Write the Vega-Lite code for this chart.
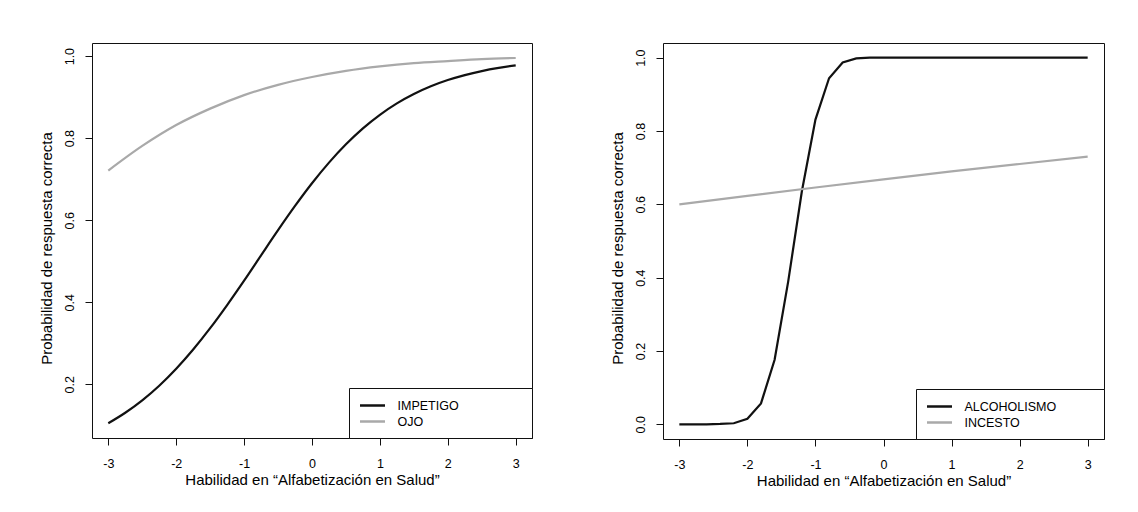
{
  "$schema": "https://vega.github.io/schema/vega-lite/v6.json",
  "background": "white",
  "padding": {"left": 38, "top": 42, "right": 5, "bottom": 5},
  "datasets": {
    "left": [
      {"x": -3.0, "p": 0.105, "item": "IMPETIGO"},
      {"x": -2.75, "p": 0.1306, "item": "IMPETIGO"},
      {"x": -2.5, "p": 0.1608, "item": "IMPETIGO"},
      {"x": -2.25, "p": 0.1964, "item": "IMPETIGO"},
      {"x": -2.0, "p": 0.2378, "item": "IMPETIGO"},
      {"x": -1.75, "p": 0.2847, "item": "IMPETIGO"},
      {"x": -1.5, "p": 0.3367, "item": "IMPETIGO"},
      {"x": -1.25, "p": 0.3932, "item": "IMPETIGO"},
      {"x": -1.0, "p": 0.4527, "item": "IMPETIGO"},
      {"x": -0.75, "p": 0.5144, "item": "IMPETIGO"},
      {"x": -0.5, "p": 0.5757, "item": "IMPETIGO"},
      {"x": -0.25, "p": 0.6347, "item": "IMPETIGO"},
      {"x": 0.0, "p": 0.6900, "item": "IMPETIGO"},
      {"x": 0.25, "p": 0.7403, "item": "IMPETIGO"},
      {"x": 0.5, "p": 0.7850, "item": "IMPETIGO"},
      {"x": 0.75, "p": 0.8239, "item": "IMPETIGO"},
      {"x": 1.0, "p": 0.8569, "item": "IMPETIGO"},
      {"x": 1.25, "p": 0.8847, "item": "IMPETIGO"},
      {"x": 1.5, "p": 0.9076, "item": "IMPETIGO"},
      {"x": 1.75, "p": 0.9264, "item": "IMPETIGO"},
      {"x": 2.0, "p": 0.9416, "item": "IMPETIGO"},
      {"x": 2.25, "p": 0.9538, "item": "IMPETIGO"},
      {"x": 2.5, "p": 0.9636, "item": "IMPETIGO"},
      {"x": 2.75, "p": 0.9713, "item": "IMPETIGO"},
      {"x": 3.0, "p": 0.9775, "item": "IMPETIGO"},
      {"x": -3.0, "p": 0.721, "item": "OJO"},
      {"x": -2.5, "p": 0.781, "item": "OJO"},
      {"x": -2.0, "p": 0.832, "item": "OJO"},
      {"x": -1.5, "p": 0.872, "item": "OJO"},
      {"x": -1.0, "p": 0.905, "item": "OJO"},
      {"x": -0.5, "p": 0.930, "item": "OJO"},
      {"x": 0.0, "p": 0.949, "item": "OJO"},
      {"x": 0.5, "p": 0.964, "item": "OJO"},
      {"x": 1.0, "p": 0.975, "item": "OJO"},
      {"x": 1.5, "p": 0.983, "item": "OJO"},
      {"x": 2.0, "p": 0.988, "item": "OJO"},
      {"x": 2.5, "p": 0.9926, "item": "OJO"},
      {"x": 3.0, "p": 0.9955, "item": "OJO"}
    ],
    "right": [
      {"x": -3.0, "p": 0.0, "item": "ALCOHOLISMO"},
      {"x": -2.8, "p": 0.0, "item": "ALCOHOLISMO"},
      {"x": -2.6, "p": 0.0, "item": "ALCOHOLISMO"},
      {"x": -2.4, "p": 0.001, "item": "ALCOHOLISMO"},
      {"x": -2.2, "p": 0.003, "item": "ALCOHOLISMO"},
      {"x": -2.0, "p": 0.015, "item": "ALCOHOLISMO"},
      {"x": -1.8, "p": 0.057, "item": "ALCOHOLISMO"},
      {"x": -1.6, "p": 0.176, "item": "ALCOHOLISMO"},
      {"x": -1.4, "p": 0.39, "item": "ALCOHOLISMO"},
      {"x": -1.2, "p": 0.635, "item": "ALCOHOLISMO"},
      {"x": -1.0, "p": 0.831, "item": "ALCOHOLISMO"},
      {"x": -0.8, "p": 0.944, "item": "ALCOHOLISMO"},
      {"x": -0.6, "p": 0.987, "item": "ALCOHOLISMO"},
      {"x": -0.4, "p": 0.998, "item": "ALCOHOLISMO"},
      {"x": -0.2, "p": 1.0, "item": "ALCOHOLISMO"},
      {"x": 0.0, "p": 1.0, "item": "ALCOHOLISMO"},
      {"x": 0.5, "p": 1.0, "item": "ALCOHOLISMO"},
      {"x": 1.0, "p": 1.0, "item": "ALCOHOLISMO"},
      {"x": 1.5, "p": 1.0, "item": "ALCOHOLISMO"},
      {"x": 2.0, "p": 1.0, "item": "ALCOHOLISMO"},
      {"x": 2.5, "p": 1.0, "item": "ALCOHOLISMO"},
      {"x": 3.0, "p": 1.0, "item": "ALCOHOLISMO"},
      {"x": -3.0, "p": 0.600, "item": "INCESTO"},
      {"x": -2.0, "p": 0.623, "item": "INCESTO"},
      {"x": -1.0, "p": 0.646, "item": "INCESTO"},
      {"x": 0.0, "p": 0.668, "item": "INCESTO"},
      {"x": 1.0, "p": 0.690, "item": "INCESTO"},
      {"x": 2.0, "p": 0.710, "item": "INCESTO"},
      {"x": 3.0, "p": 0.730, "item": "INCESTO"}
    ]
  },
  "config": {
    "font": "Liberation Sans",
    "view": {"stroke": "#111111", "strokeWidth": 1},
    "axis": {
      "grid": false,
      "domain": false,
      "tickColor": "#111111",
      "tickSize": 7,
      "labelColor": "#000000",
      "titleColor": "#000000",
      "labelFont": "Liberation Sans",
      "titleFont": "Liberation Sans",
      "labelFontSize": 12.5,
      "titleFontSize": 15,
      "titleFontWeight": "normal",
      "labelFlush": false,
      "labelOverlap": false
    },
    "axisX": {"labelPadding": 12, "titlePadding": 3},
    "axisY": {"labelAngle": -90, "labelAlign": "center", "labelBaseline": "alphabetic", "labelPadding": 12, "titlePadding": 9, "titleY": 205},
    "legend": {
      "orient": "bottom-right",
      "offset": 0,
      "fillColor": "white",
      "strokeColor": "#111111",
      "padding": 9.5,
      "symbolType": "M-1,0L2.85,0",
      "symbolSize": 169,
      "symbolStrokeWidth": 2.5,
      "labelOffset": 23,
      "labelFont": "Liberation Sans",
      "labelFontSize": 12.5,
      "labelColor": "#000000",
      "rowPadding": 1,
      "labelLimit": 400,
      "cornerRadius": 0,
      "titleOrient": "right",
      "titleFontSize": 12.5,
      "titleColor": "#ffffff"
    },
    "concat": {"spacing": 76}
  },
  "resolve": {"scale": {"color": "independent"}, "legend": {"color": "independent"}},
  "hconcat": [
    {
      "width": 440,
      "height": 395,
      "data": {"name": "left"},
      "mark": {"type": "line", "strokeWidth": 2.2, "interpolate": "monotone", "clip": true},
      "encoding": {
        "x": {"field": "x", "type": "quantitative",
          "scale": {"domain": [-3.24, 3.24], "nice": false, "zero": false},
          "axis": {"values": [-3, -2, -1, 0, 1, 2, 3], "labelExpr": "'' + datum.value", "title": "Habilidad en “Alfabetización en Salud”"}},
        "y": {"field": "p", "type": "quantitative",
          "scale": {"domain": [0.069, 1.032], "nice": false, "zero": false},
          "axis": {"values": [0.2, 0.4, 0.6, 0.8, 1.0], "format": ".1f", "title": "Probabilidad de respuesta correcta"}},
        "color": {"field": "item", "type": "nominal",
          "scale": {"domain": ["IMPETIGO", "OJO"], "range": ["#111111", "#a9a9a9"]},
          "legend": {"title": ".", "titlePadding": 60}}
      }
    },
    {
      "width": 441,
      "height": 396,
      "data": {"name": "right"},
      "mark": {"type": "line", "strokeWidth": 2.2, "interpolate": "linear", "clip": true},
      "encoding": {
        "x": {"field": "x", "type": "quantitative",
          "scale": {"domain": [-3.24, 3.24], "nice": false, "zero": false},
          "axis": {"values": [-3, -2, -1, 0, 1, 2, 3], "labelExpr": "'' + datum.value", "title": "Habilidad en “Alfabetización en Salud”"}},
        "y": {"field": "p", "type": "quantitative",
          "scale": {"domain": [-0.04, 1.04], "nice": false, "zero": false},
          "axis": {"values": [0, 0.2, 0.4, 0.6, 0.8, 1.0], "format": ".1f", "title": "Probabilidad de respuesta correcta"}},
        "color": {"field": "item", "type": "nominal",
          "scale": {"domain": ["ALCOHOLISMO", "INCESTO"], "range": ["#111111", "#a9a9a9"]},
          "legend": {"title": ".", "titlePadding": 34}}
      }
    }
  ]
}
